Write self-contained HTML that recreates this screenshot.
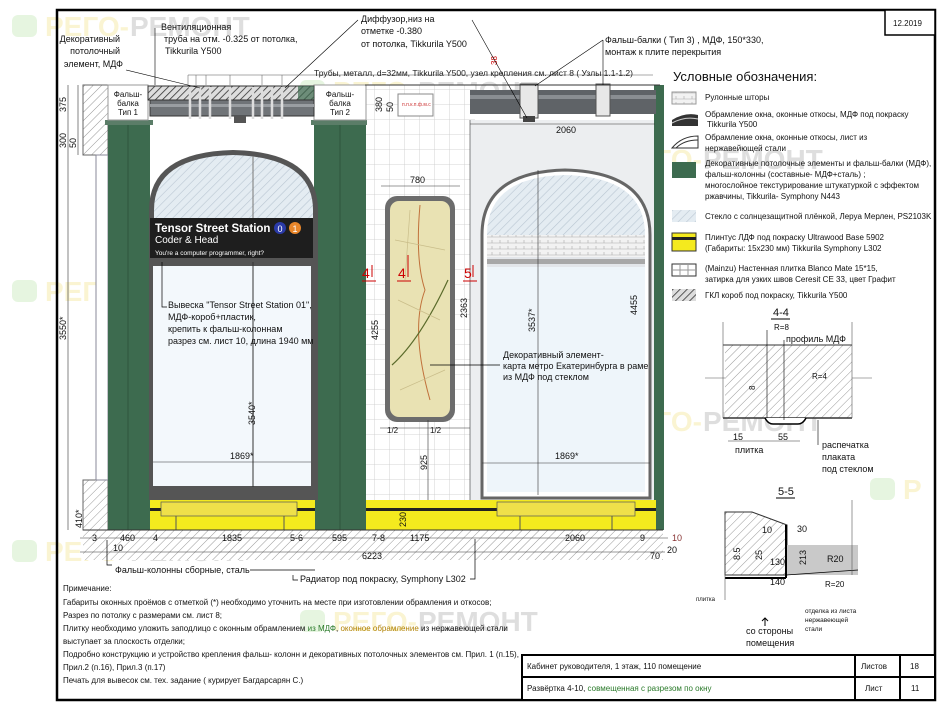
<!DOCTYPE html>
<html><head><meta charset="utf-8"><style>
body{margin:0;background:#fff;}
svg{display:block;font-family:"Liberation Sans Narrow","Liberation Sans",sans-serif;}
.t{font-size:9px;fill:#111;}
.s{font-size:8px;fill:#111;}
.d{font-size:9px;fill:#111;}
</style></head><body>
<svg width="940" height="705" viewBox="0 0 940 705" xmlns="http://www.w3.org/2000/svg">
<defs>
<pattern id="h" width="6" height="6" patternUnits="userSpaceOnUse" patternTransform="rotate(45)"><rect width="6" height="6" fill="#fff"/><line x1="0" y1="0" x2="0" y2="6" stroke="#999" stroke-width="1"/></pattern>
<pattern id="hd" width="5" height="5" patternUnits="userSpaceOnUse" patternTransform="rotate(45)"><rect width="5" height="5" fill="#ddd"/><line x1="0" y1="0" x2="0" y2="5" stroke="#333" stroke-width="1.6"/></pattern>
<pattern id="gl" width="6" height="6" patternUnits="userSpaceOnUse" patternTransform="rotate(45)"><rect width="6" height="6" fill="#e4ecf2"/><line x1="0" y1="0" x2="0" y2="6" stroke="#b9c6d2" stroke-width="1.2"/></pattern>
<pattern id="tile" width="15" height="15" patternUnits="userSpaceOnUse"><rect width="15" height="15" fill="#fff"/><path d="M15 0V15H0" fill="none" stroke="#c9c9c9" stroke-width="0.8"/></pattern>
<pattern id="blind" width="8" height="6" patternUnits="userSpaceOnUse"><rect width="8" height="6" fill="#f2f2f2"/><path d="M0 3H8M4 0V3" stroke="#aaa" stroke-width="0.6"/></pattern>
</defs>
<rect width="940" height="705" fill="#fff"/>
<g font-family="Liberation Sans" font-weight="bold" font-size="28" opacity="0.38">
<rect x="12" y="15" width="25" height="22" rx="6" fill="#bfe6b0"/><text x="45" y="36" fill="#f3e38a">РЕГО-</text><text x="130" y="36" fill="#aaa">РЕМОНТ</text>
<rect x="12" y="280" width="25" height="22" rx="6" fill="#bfe6b0"/><text x="45" y="301" fill="#f3e38a">РЕГО-</text><text x="130" y="301" fill="#aaa">РЕМОНТ</text>
<rect x="12" y="540" width="25" height="22" rx="6" fill="#bfe6b0"/><text x="45" y="561" fill="#f3e38a">РЕГО-</text><text x="130" y="561" fill="#aaa">РЕМОНТ</text>
<rect x="300" y="345" width="25" height="22" rx="6" fill="#bfe6b0"/><text x="333" y="366" fill="#f3e38a">РЕГО-</text><text x="418" y="366" fill="#aaa">РЕМОНТ</text>
<rect x="300" y="80" width="25" height="22" rx="6" fill="#bfe6b0"/><text x="333" y="101" fill="#f3e38a">РЕГО-</text><text x="418" y="101" fill="#aaa">РЕМОНТ</text>
<rect x="585" y="410" width="25" height="22" rx="6" fill="#bfe6b0"/><text x="618" y="431" fill="#f3e38a">РЕГО-</text><text x="703" y="431" fill="#aaa">РЕМОНТ</text>
<rect x="585" y="148" width="25" height="22" rx="6" fill="#bfe6b0"/><text x="618" y="169" fill="#f3e38a">РЕГО-</text><text x="703" y="169" fill="#aaa">РЕМОНТ</text>
<rect x="300" y="610" width="25" height="22" rx="6" fill="#bfe6b0"/><text x="333" y="631" fill="#f3e38a">РЕГО-</text><text x="418" y="631" fill="#aaa">РЕМОНТ</text>
<rect x="585" y="675" width="25" height="22" rx="6" fill="#bfe6b0"/><text x="618" y="696" fill="#f3e38a">РЕГО-</text><text x="703" y="696" fill="#aaa">РЕМОНТ</text>
<rect x="870" y="478" width="25" height="22" rx="6" fill="#bfe6b0"/><text x="903" y="499" fill="#f3e38a">Р</text>
</g>
<rect x="57" y="10" width="878" height="690" fill="none" stroke="#000" stroke-width="2.5"/>
<rect x="885" y="10" width="50" height="25" fill="#fff" stroke="#000" stroke-width="1.5"/>
<text x="893" y="26" class="s">12.2019</text>

<rect x="365" y="85" width="110" height="415" fill="url(#tile)"/>
<rect x="470" y="120" width="190" height="380" fill="#eceef0"/>
<rect x="365" y="120" width="105" height="380" fill="url(#tile)"/>
<rect x="83" y="85" width="25" height="70" fill="url(#h)" stroke="#666"/>
<rect x="83" y="480" width="25" height="50" fill="url(#h)" stroke="#666"/>
<rect x="96" y="155" width="12" height="325" fill="#fff" stroke="#889"/>
<rect x="108" y="120" width="42" height="410" fill="#3d6b4f"/>
<line x1="128" y1="122" x2="128" y2="530" stroke="#2e553d"/>
<rect x="105" y="120" width="48" height="5" fill="#5b7d68"/>
<rect x="314" y="120" width="52" height="410" fill="#3d6b4f"/>
<line x1="340" y1="122" x2="340" y2="530" stroke="#2e553d"/>
<rect x="311" y="120" width="56" height="5" fill="#5b7d68"/>
<rect x="654" y="85" width="10" height="445" fill="#3d6b4f"/>
<rect x="108" y="85" width="40" height="35" fill="#fff" stroke="#999"/>
<text x="128" y="97" class="s" text-anchor="middle" font-size="7">Фальш-</text><text x="128" y="106" class="s" text-anchor="middle" font-size="7">балка</text><text x="128" y="115" class="s" text-anchor="middle" font-size="7">Тип 1</text>
<rect x="314" y="85" width="52" height="35" fill="#fff" stroke="#999"/>
<text x="340" y="97" class="s" text-anchor="middle" font-size="7">Фальш-</text><text x="340" y="106" class="s" text-anchor="middle" font-size="7">балка</text><text x="340" y="115" class="s" text-anchor="middle" font-size="7">Тип 2</text>
<rect x="148" y="86" width="166" height="14" fill="url(#hd)" stroke="#333"/>
<rect x="298" y="86" width="16" height="14" fill="#3d6b4f" opacity="0.7"/>
<rect x="150" y="100" width="164" height="16" fill="#707478" stroke="#333"/>
<rect x="150" y="104" width="164" height="3" fill="#9a9ea2"/>
<rect x="234" y="116" width="12" height="7" fill="#555"/>
<g stroke="#ddd" stroke-width="2.5" fill="none">
<path d="M190 87v32M200 87v32M210 87v32M230 87v32M253 87v32M262 87v32M272 87v32M282 87v32"/></g>
<rect x="398" y="94" width="35" height="22" fill="#fff" stroke="#888"/>
<text x="402" y="106" font-size="5" fill="#c33">п.п.к.п.ф.м.с</text>
<rect x="470" y="90" width="186" height="24" fill="#5f6367"/>
<rect x="470" y="95" width="186" height="4" fill="#8a8e92"/>
<rect x="520" y="84" width="18" height="34" fill="#e8e8e8" stroke="#555"/><rect x="523" y="116" width="12" height="6" fill="#444"/>
<rect x="596" y="84" width="14" height="32" fill="#e8e8e8" stroke="#555"/>
<line x1="365" y1="85" x2="660" y2="85" stroke="#333"/>

<path d="M149 500V210 Q149 152 233 150 Q318 152 318 210V500Z" fill="#555"/>
<path d="M154 218V210 Q154 157 233 155 Q313 157 313 210V218Z" fill="url(#gl)"/>
<line x1="253" y1="156" x2="253" y2="218" stroke="#777"/>
<rect x="150" y="218" width="163" height="40" fill="#1e1e1e"/>
<text x="155" y="232" font-family="Liberation Sans" font-weight="bold" font-size="11.5" fill="#fff">Tensor Street Station</text>
<circle cx="280" cy="228" r="6" fill="#2a3aa8"/><text x="280" y="232" font-family="Liberation Sans" font-size="9" fill="#fff" text-anchor="middle">0</text>
<circle cx="295" cy="228" r="6" fill="#e8862a"/><text x="295" y="232" font-family="Liberation Sans" font-size="9" fill="#fff" text-anchor="middle">1</text>
<text x="155" y="243" font-family="Liberation Sans" font-size="10" fill="#fff">Coder &amp; Head</text>
<text x="155" y="255" font-family="Liberation Sans" font-size="6.5" fill="#fff">You're a computer programmer, right?</text>
<rect x="153" y="266" width="158" height="220" fill="#f3f8fc"/>
<line x1="253" y1="262" x2="253" y2="487" stroke="#333"/>
<line x1="153" y1="462" x2="311" y2="462" stroke="#333" stroke-width="0.6"/>
<text x="230" y="459" class="d">1869*</text>
<text x="255" y="425" class="d" transform="rotate(-90 255 425)">3540*</text>
<path d="M162 262v45h5" fill="none" stroke="#000" stroke-width="0.7"/>
<text x="168" y="308" class="t">Вывеска "Tensor Street Station 01",</text>
<text x="168" y="320" class="t">МДФ-короб+пластик,</text>
<text x="168" y="332" class="t">крепить к фальш-колоннам</text>
<text x="168" y="344" class="t">разрез см. лист 10, длина 1940 мм</text>

<rect x="385" y="196" width="70" height="226" rx="12" fill="#6c6c6c"/>
<rect x="390" y="201" width="60" height="216" rx="9" fill="#e9e2b3"/>
<path d="M420 205 Q415 260 425 290 Q410 330 430 400" stroke="#c0703a" fill="none"/>
<path d="M392 365 Q420 340 448 280" stroke="#5a6a2a" fill="none" stroke-width="1.2"/>
<path d="M395 240 L445 250 M398 300 L440 320 M400 390 L445 370 M410 210 L405 280" stroke="#c9bd8a" fill="none" stroke-width="0.7"/>
<line x1="381" y1="186" x2="460" y2="186" stroke="#333" stroke-width="0.6"/><text x="410" y="183" class="d">780</text>
<line x1="380" y1="428" x2="470" y2="428" stroke="#333" stroke-width="0.6"/>
<text x="387" y="433" class="s">1/2</text><text x="430" y="433" class="s">1/2</text>
<line x1="428" y1="420" x2="428" y2="505" stroke="#333" stroke-width="0.6"/>
<text x="427" y="470" class="d" transform="rotate(-90 427 470)">925</text>
<line x1="470" y1="120" x2="470" y2="500" stroke="#333" stroke-width="0.6"/>
<text x="467" y="318" class="d" transform="rotate(-90 467 318)">2363</text>
<text x="378" y="340" class="d" transform="rotate(-90 378 340)">4255</text>
<g font-family="Liberation Sans" font-size="14" fill="#c00">
<text x="362" y="278">4</text><text x="398" y="278">4</text><text x="464" y="278">5</text><text x="493" y="278">5</text></g>
<path d="M372 265v12M408 255v22M473 265v12M503 255v22" stroke="#c00"/>
<path d="M362 281h14M397 281h14M463 281h14M492 281h14" stroke="#c00"/>
<text x="497" y="65" font-size="8" fill="#c00" transform="rotate(-90 497 65)">38</text>

<path d="M482 498V235 Q482 172 565 170 Q650 172 650 235V498Z" fill="#fff" stroke="#666" stroke-width="3"/>
<path d="M487 235 Q487 177 565 175 Q645 177 645 235Z" fill="url(#gl)"/>
<rect x="487" y="235" width="158" height="22" fill="url(#blind)"/>
<rect x="487" y="257" width="158" height="10" fill="#e3e6ea"/>
<rect x="487" y="259" width="158" height="5" fill="#a8a8a8"/>
<rect x="487" y="267" width="158" height="225" fill="#eef5fa"/>
<line x1="538" y1="170" x2="538" y2="495" stroke="#333" stroke-width="0.6"/>
<line x1="482" y1="463" x2="650" y2="463" stroke="#333" stroke-width="0.6"/>
<text x="555" y="459" class="d">1869*</text>
<text x="535" y="332" class="d" transform="rotate(-90 535 332)">3537*</text>
<text x="637" y="315" class="d" transform="rotate(-90 637 315)">4455</text>
<line x1="470" y1="124" x2="655" y2="124" stroke="#333" stroke-width="0.6"/><text x="556" y="133" class="d">2060</text>
<path d="M430 365h70" stroke="#000" stroke-width="0.7"/>
<text x="503" y="358" class="t">Декоративный элемент-</text>
<text x="503" y="369" class="t">карта метро Екатеринбурга в раме</text>
<text x="503" y="380" class="t">из МДФ под стеклом</text>

<rect x="150" y="500" width="165" height="30" fill="#f4ea1e"/>
<rect x="366" y="500" width="290" height="30" fill="#f4ea1e"/>
<rect x="150" y="508" width="165" height="3" fill="#222"/><rect x="366" y="508" width="290" height="3" fill="#222"/>
<rect x="161" y="502" width="136" height="14" fill="#efe04a" stroke="#555" stroke-width="0.7"/>
<rect x="497" y="502" width="138" height="14" fill="#efe04a" stroke="#555" stroke-width="0.7"/>
<path d="M176 516v14M284 516v14M520 516v14M612 516v14" stroke="#555"/>
<rect x="83" y="530" width="580" height="30" fill="url(#h)"/>
<line x1="83" y1="530" x2="663" y2="530" stroke="#333"/>
<line x1="80" y1="538" x2="668" y2="538" stroke="#333" stroke-width="0.6"/>
<g class="d" font-size="9">
<text x="92" y="541">3</text><text x="120" y="541">460</text><text x="153" y="541">4</text><text x="222" y="541">1835</text>
<text x="290" y="541">5-6</text><text x="332" y="541">595</text><text x="372" y="541">7-8</text><text x="410" y="541">1175</text>
<text x="565" y="541">2060</text><text x="640" y="541">9</text><text x="672" y="541" fill="#833">10</text>
<text x="113" y="551">10</text><text x="362" y="559">6223</text><text x="650" y="559">70</text><text x="667" y="553">20</text>
<text x="82" y="528" transform="rotate(-90 82 528)">410*</text>
<text x="406" y="527" transform="rotate(-90 406 527)">230</text>
</g>
<line x1="80" y1="552" x2="665" y2="552" stroke="#333" stroke-width="0.6"/>
<line x1="68" y1="85" x2="68" y2="530" stroke="#333" stroke-width="0.6"/>
<line x1="78" y1="85" x2="78" y2="155" stroke="#333" stroke-width="0.6"/>
<g class="d" font-size="9">
<text x="66" y="112" transform="rotate(-90 66 112)">375</text>
<text x="66" y="148" transform="rotate(-90 66 148)">300</text>
<text x="76" y="148" transform="rotate(-90 76 148)">50</text>
<text x="66" y="340" transform="rotate(-90 66 340)">3550*</text>
<text x="382" y="112" transform="rotate(-90 382 112)">380</text>
<text x="393" y="112" transform="rotate(-90 393 112)">50</text>
</g>
<path d="M107 540v25h5" stroke="#000" stroke-width="0.7" fill="none"/>
<text x="115" y="573" class="t">Фальш-колонны сборные, сталь</text>
<path d="M250 570h65" stroke="#000" stroke-width="0.7"/>
<path d="M293 575v5h5M470 579h5v-40" stroke="#000" stroke-width="0.7" fill="none"/>
<text x="300" y="582" class="t">Радиатор под покраску, Symphony L302</text>

<text x="120" y="42" class="t" text-anchor="end">Декоративный</text>
<text x="120" y="54" class="t" text-anchor="end">потолочный</text>
<text x="123" y="67" class="t" text-anchor="end">элемент, МДФ</text>
<path d="M126 70L200 88" stroke="#000" stroke-width="0.6"/>
<path d="M155 28v57" stroke="#000" stroke-width="0.6"/>
<text x="161" y="30" class="t">Вентиляционная</text>
<text x="164" y="42" class="t">труба на отм. -0.325 от потолка,</text>
<text x="165" y="54" class="t">Tikkurila Y500</text>
<text x="361" y="22" class="t">Диффузор,низ на</text>
<text x="361" y="34" class="t">отметке  -0.380</text>
<text x="361" y="47" class="t">от потолка,  Tikkurila Y500</text>
<path d="M358 20L285 88M472 20L527 118" stroke="#000" stroke-width="0.6"/>
<path d="M188 75h465M188 75v10M196 75v10M206 75v10M230 75v10M262 75v10M282 75v10" stroke="#555" stroke-width="0.5" fill="none"/>
<text x="314" y="76" font-size="8.5" fill="#222">Трубы, металл, d=32мм,  Tikkurila Y500, узел крепления см. лист 8 ( Узлы 1.1-1.2)</text>
<text x="605" y="43" class="t">Фальш-балки ( Тип 3) , МДФ, 150*330,</text>
<text x="605" y="55" class="t">монтаж к плите перекрытия</text>
<path d="M603 40L535 86M603 40v45" stroke="#000" stroke-width="0.6" fill="none"/>

<text x="673" y="81" font-size="13" fill="#111">Условные обозначения:</text>
<rect x="672" y="92" width="24" height="12" fill="url(#blind)" stroke="#999"/>
<text x="705" y="100" class="s">Рулонные шторы</text>
<path d="M672 120 Q685 112 698 115V126H672Z" fill="#333"/><path d="M672 123 Q685 116 698 119" stroke="#ccc" fill="none"/>
<text x="705" y="117" class="s">Обрамление окна, оконные откосы, МДФ под покраску</text>
<text x="707" y="127" class="s">Tikkurila Y500</text>
<path d="M672 148 Q682 136 698 136V148Z" fill="#fff" stroke="#333"/><path d="M676 148 Q684 140 698 140" stroke="#333" fill="none"/>
<text x="705" y="140" class="s">Обрамление окна, оконные откосы, лист из</text>
<text x="705" y="151" class="s">нержавейющей стали</text>
<rect x="672" y="162" width="24" height="16" fill="#3d6b4f"/>
<text x="705" y="166" class="s">Декоративные потолочные элементы и фальш-балки (МДФ),</text>
<text x="705" y="177" class="s">фальш-колонны (составные- МДФ+сталь) ;</text>
<text x="705" y="188" class="s">многослойное текстурирование штукатуркой с эффектом</text>
<text x="705" y="199" class="s">ржавчины, Tikkurila- Symphony N443</text>
<rect x="672" y="210" width="24" height="12" fill="url(#gl)"/>
<text x="705" y="219" class="s">Стекло  с солнцезащитной плёнкой, Леруа Мерлен,  PS2103K</text>
<rect x="672" y="233" width="24" height="18" fill="#f4ea1e" stroke="#333"/><rect x="672" y="237" width="24" height="3" fill="#222"/>
<text x="705" y="240" class="s">Плинтус ЛДФ под покраску Ultrawood Base 5902</text>
<text x="705" y="251" class="s">(Габариты: 15x230 мм) Tikkurila Symphony L302</text>
<rect x="672" y="264" width="24" height="12" fill="#fff" stroke="#333"/><path d="M680 264v12M688 264v12M672 270h24" stroke="#999"/>
<text x="705" y="271" class="s">(Mainzu) Настенная плитка Blanco Mate 15*15,</text>
<text x="705" y="282" class="s">затирка для узких швов Ceresit CE 33, цвет Графит</text>
<rect x="672" y="289" width="24" height="12" fill="url(#hd)"/>
<text x="705" y="298" class="s">ГКЛ короб под покраску,  Tikkurila Y500</text>

<text x="773" y="316" font-size="11" fill="#111">4-4</text><line x1="771" y1="319" x2="790" y2="319" stroke="#000"/>
<rect x="725" y="345" width="127" height="73" fill="url(#h)"/>
<path d="M723 345H852" stroke="#333"/>
<path d="M723 418H852" stroke="#333" stroke-width="1.5"/>
<path d="M723 322V418M852 322V418M705 378h20M852 378h20" stroke="#555" stroke-width="0.6"/>
<path d="M765 418 q3 6 8 6h25 q5 0 8 -6" fill="#fff" stroke="#000" stroke-width="1.5"/>
<text x="774" y="330" class="s">R=8</text>
<text x="786" y="342" class="t">профиль  МДФ</text>
<text x="812" y="379" class="s">R=4</text>
<text x="755" y="390" class="s" transform="rotate(-90 755 390)">8</text>
<text x="733" y="440" class="d">15</text><text x="778" y="440" class="d">55</text>
<line x1="728" y1="441" x2="800" y2="441" stroke="#333" stroke-width="0.6"/>
<text x="735" y="453" class="t">плитка</text>
<text x="822" y="448" class="t">распечатка</text>
<text x="822" y="460" class="t">плаката</text>
<text x="822" y="472" class="t">под стеклом</text>
<path d="M818 420v25M767 330v88M784 340v80" stroke="#000" stroke-width="0.6"/>
<text x="778" y="495" font-size="11" fill="#111">5-5</text><line x1="776" y1="498" x2="795" y2="498" stroke="#000"/>
<path d="M725 512L752 512L787 525V575H725Z" fill="url(#h)" stroke="#333"/>
<rect x="786" y="545" width="72" height="30" fill="#c9c9c9"/>
<path d="M786 575L858 570" stroke="#000" stroke-width="0.7"/>
<path d="M786 525V578M725 578H786" stroke="#000" stroke-width="2"/>
<path d="M725 515V600M852 500V575" stroke="#555" stroke-width="0.6"/>
<text x="762" y="533" class="d">10</text><text x="797" y="532" class="d">30</text>
<text x="740" y="560" class="d" transform="rotate(-90 740 560)">8.5</text>
<text x="762" y="560" class="d" transform="rotate(-90 762 560)">25</text>
<text x="770" y="565" class="d">130</text><text x="770" y="585" class="d">140</text>
<text x="806" y="565" class="d" transform="rotate(-90 806 565)">213</text>
<text x="827" y="562" class="d">R20</text>
<text x="825" y="587" class="s">R=20</text>
<text x="696" y="601" font-size="6" fill="#111">плитка</text>
<text x="805" y="613" font-size="6.5" fill="#111">отделка из листа</text>
<text x="805" y="622" font-size="6.5" fill="#111">нержавеющей</text>
<text x="805" y="631" font-size="6.5" fill="#111">стали</text>
<text x="746" y="634" class="t">со стороны</text>
<text x="746" y="646" class="t">помещения</text>
<path d="M765 618V626M762 621l3-3 3 3" stroke="#000" fill="none"/>

<text x="63" y="591" class="s">Примечание:</text>
<text x="63" y="605" class="s">Габариты оконных проёмов с отметкой (*) необходимо уточнить на месте при изготовлении обрамления и откосов;</text>
<text x="63" y="618" class="s">Разрез по потолку с размерами см. лист 8;</text>
<text x="63" y="631" class="s">Плитку необходимо уложить заподлицо с оконным обрамлением <tspan fill="#2a7a2a">из МДФ</tspan>, <tspan fill="#b08000">оконное обрамление</tspan> из нержавеющей стали</text>
<text x="63" y="644" class="s">выступает за плоскость отделки;</text>
<text x="63" y="657" class="s">Подробно конструкцию и устройство крепления фальш- колонн и декоративных потолочных элементов см. Прил. 1 (п.15),</text>
<text x="63" y="670" class="s">Прил.2 (п.16), Прил.3 (п.17)</text>
<text x="63" y="683" class="s">Печать для вывесок  см. тех. задание ( курирует Багдарсарян С.)</text>

<rect x="522" y="655" width="413" height="45" fill="#fff" stroke="#000" stroke-width="2"/>
<line x1="522" y1="677" x2="935" y2="677" stroke="#000" stroke-width="2"/>
<line x1="855" y1="655" x2="855" y2="700" stroke="#000" stroke-width="2"/>
<line x1="900" y1="655" x2="900" y2="700" stroke="#000" stroke-width="2"/>
<text x="527" y="669" class="s">Кабинет руководителя, 1 этаж, 110 помещение</text>
<text x="527" y="691" class="s">Развёртка 4-10, <tspan fill="#2a7a2a">совмещенная с разрезом по окну</tspan></text>
<text x="861" y="669" class="s">Листов</text><text x="910" y="669" class="s">18</text>
<text x="865" y="691" class="s">Лист</text><text x="911" y="691" class="s">11</text>
</svg>
</body></html>
